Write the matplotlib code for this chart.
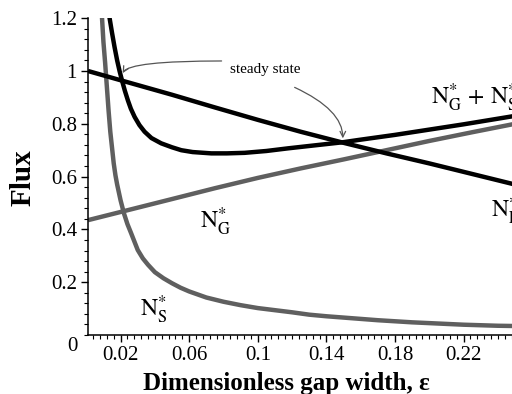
import matplotlib
matplotlib.use('Agg')
import matplotlib.pyplot as plt
from matplotlib.ticker import MultipleLocator, FixedLocator

plt.rcParams['font.family'] = ['Liberation Serif', 'DejaVu Serif']
plt.rcParams['mathtext.fontset'] = 'stix'

# ---- data ----
eps_L = [0.001, 0.02, 0.05, 0.075, 0.10, 0.125, 0.15, 0.175, 0.20, 0.225, 0.25]
N_L = [1.000, 0.965, 0.910, 0.862, 0.815, 0.770, 0.728, 0.688, 0.650, 0.610, 0.570]

eps_G = [0.001, 0.02, 0.05, 0.075, 0.10, 0.125, 0.15, 0.175, 0.20, 0.225, 0.25]
N_G = [0.435, 0.466, 0.515, 0.556, 0.595, 0.631, 0.665, 0.700, 0.735, 0.768, 0.800]

eps_S = [0.0088, 0.009, 0.010, 0.011, 0.012, 0.013, 0.014, 0.015, 0.016, 0.017,
         0.018, 0.019, 0.020, 0.022, 0.024, 0.026, 0.028, 0.030, 0.033, 0.036,
         0.040, 0.045, 0.050, 0.055, 0.060, 0.070, 0.080, 0.090, 0.100, 0.110,
         0.120, 0.130, 0.140, 0.150, 0.160, 0.170, 0.180, 0.190, 0.200, 0.210,
         0.220, 0.230, 0.240, 0.250]
N_S = [1.26, 1.22, 1.11, 1.03, 0.94, 0.85, 0.77, 0.71, 0.65, 0.605,
       0.570, 0.540, 0.510, 0.460, 0.420, 0.388, 0.355, 0.322, 0.290, 0.266,
       0.238, 0.215, 0.196, 0.179, 0.165, 0.142, 0.126, 0.113, 0.102, 0.094,
       0.086, 0.077, 0.071, 0.066, 0.061, 0.056, 0.052, 0.048, 0.045, 0.042,
       0.039, 0.037, 0.035, 0.034]

eps_sum = [0.0128, 0.0136, 0.015, 0.0165, 0.018, 0.0194, 0.021, 0.0225, 0.0243,
           0.026, 0.0282, 0.031, 0.034, 0.038, 0.0437, 0.050, 0.0554, 0.062,
           0.0729, 0.082, 0.0923, 0.105, 0.1176, 0.130, 0.1495, 0.159, 0.180,
           0.200, 0.220, 0.250]
N_sum = [1.23, 1.200, 1.145, 1.090, 1.040, 1.000, 0.960, 0.925, 0.888,
         0.857, 0.826, 0.795, 0.770, 0.746, 0.726, 0.711, 0.700, 0.693,
         0.688, 0.688, 0.690, 0.697, 0.707, 0.716, 0.730, 0.739, 0.758,
         0.778, 0.798, 0.830]

xtick_vals = [0.02, 0.06, 0.10, 0.14, 0.18, 0.22]
xtick_labels = ['0.02', '0.06', '0.1', '0.14', '0.18', '0.22']
ytick_vals = [0.2, 0.4, 0.6, 0.8, 1.0, 1.2]
ytick_labels = ['0.2', '0.4', '0.6', '0.8', '1', '1.2']

BLACK = '#000000'
GRAY = '#5f5f5f'
LW = 3.2

fig = plt.figure(figsize=(5.12, 3.94), dpi=100)
ax = fig.add_axes([88 / 512, 59 / 394, 427 / 512, 316.8 / 394])

ax.plot(eps_G, N_G, color=GRAY, lw=LW, solid_capstyle='butt', zorder=2)
ax.plot(eps_S, N_S, color=GRAY, lw=LW, solid_capstyle='butt', zorder=2)
ax.plot(eps_L, N_L, color=BLACK, lw=LW, solid_capstyle='butt', zorder=3)
ax.plot(eps_sum, N_sum, color=BLACK, lw=LW, solid_capstyle='butt', zorder=3)

ax.set_xlim(0.001, 0.25)
ax.set_ylim(0, 1.2)

for s in ['top', 'right']:
    ax.spines[s].set_visible(False)
for s in ['left', 'bottom']:
    ax.spines[s].set_linewidth(1.1)

ax.xaxis.set_major_locator(FixedLocator(xtick_vals))
ax.set_xticklabels(xtick_labels)
ax.xaxis.set_minor_locator(MultipleLocator(0.004))
ax.yaxis.set_major_locator(FixedLocator(ytick_vals))
ax.set_yticklabels(ytick_labels)
ax.yaxis.set_minor_locator(MultipleLocator(0.04))

ax.tick_params(axis='both', which='major', direction='out', length=5, width=1.0,
               labelsize=15, pad=3)
ax.tick_params(axis='both', which='minor', direction='out', length=3, width=0.8)

# origin label "0"
ax.annotate('0', xy=(0, 0), xycoords='axes fraction', xytext=(-7.5, -8.5),
            textcoords='offset points', ha='right', va='center', fontsize=15)

# axis labels
fig.text(286 / 512, 4 / 394, 'Dimensionless gap width, ε', ha='center', va='baseline',
         fontsize=18, fontweight='bold')
fig.text(23 / 512, (394 - 178) / 394, 'Flux', ha='center', va='center', rotation=90,
         fontsize=21, fontweight='bold')

# curve labels
lab_kw = dict(fontsize=17, ha='left', va='baseline', zorder=5)
ax.text(0.2013, 0.871, r'$\mathrm{N}_{\mathrm{G}}^{*}\,+\,\mathrm{N}_{\mathrm{S}}^{*}$', **lab_kw)
ax.text(0.0662, 0.404, r'$\mathrm{N}_{\mathrm{G}}^{*}$', **lab_kw)
ax.text(0.0311, 0.069, r'$\mathrm{N}_{\mathrm{S}}^{*}$', **lab_kw)
ax.text(0.2361, 0.443, r'$\mathrm{N}_{\mathrm{L}}^{*}$', **lab_kw)

# steady state annotation
ax.text(0.0838, 1.004, 'steady state', fontsize=11, ha='left', va='center')
arrow_kw = dict(arrowstyle='->', color='#555555', lw=0.9, shrinkA=0, shrinkB=0,
                mutation_scale=10)
ax.annotate('', xy=(0.0212, 0.992), xytext=(0.0789, 1.038),
            arrowprops=dict(connectionstyle='angle3,angleA=0,angleB=60', **arrow_kw))
ax.annotate('', xy=(0.1496, 0.745), xytext=(0.1215, 0.938),
            arrowprops=dict(connectionstyle='angle3,angleA=-25,angleB=90', **arrow_kw))

fig.savefig('out.png', dpi=100)
